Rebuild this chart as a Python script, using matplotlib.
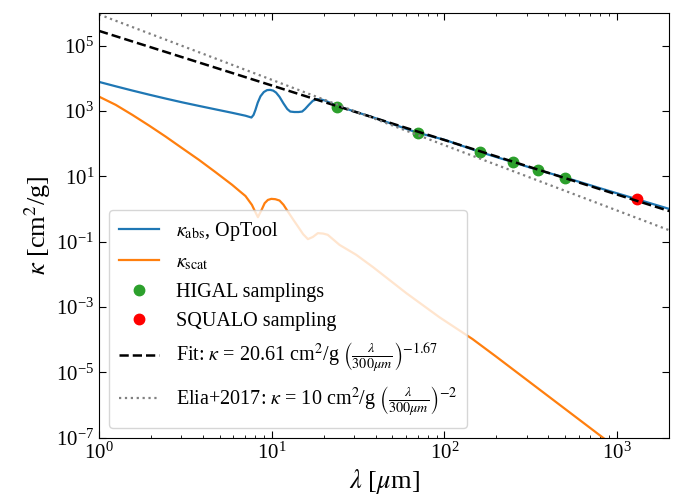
import matplotlib
matplotlib.use("Agg")
import matplotlib.pyplot as plt
from matplotlib.ticker import NullLocator

plt.rcParams['font.family'] = ['Liberation Serif', 'DejaVu Serif']
plt.rcParams['mathtext.fontset'] = 'stix'

# kappa_abs (OpTool)
abs_lam = [1.0, 1.25, 1.56, 1.95, 2.43, 3.03, 3.79, 4.73, 5.9, 7.05, 7.63, 7.85, 8.05, 8.3, 8.61, 9.0, 9.4,
           9.8, 10.2, 10.6, 11.1, 11.7, 12.3, 12.8, 13.5, 14.3, 15.0, 15.6, 16.4, 17.3, 18.3, 19.3, 20.4,
           23.9, 40, 70, 100, 160, 250, 350, 500, 800, 1300, 2000]
abs_kap = [7760, 5690, 4220, 3160, 2400, 1840, 1430, 1120, 880, 716, 631, 760, 1080, 1800, 2820, 3800, 4350,
           4420, 4200, 3650, 2700, 1700, 1150, 960, 930, 930, 960, 1150, 1540, 2050, 2300, 2250, 2080,
           1430, 600, 215, 132, 56, 27, 15.5, 9.2, 4.3, 2.0, 1.01]

# kappa_scat
sca_lam = [1.0, 1.25, 1.56, 1.95, 2.43, 3.03, 3.79, 4.73, 5.9, 6.53, 7.05, 7.68, 8.0, 8.32, 8.7, 9.1, 9.5,
           9.95, 10.5, 11.1, 11.7, 12.4, 13.3, 14.2, 15.2, 16.2, 17.3, 18.5, 19.8, 21.1, 24.7, 30.8, 38.6,
           60.0, 93.5, 145.5, 198.5, 830, 2000]
sca_kap = [2750, 1540, 760, 358, 165, 72.8, 32, 13.4, 5.5, 3.5, 2.5, 1.34, 0.85, 0.565, 0.9, 1.51, 1.9,
           2.05, 2.0, 1.82, 1.35, 0.84, 0.48, 0.29, 0.17, 0.12, 0.14, 0.183, 0.178, 0.163, 0.080, 0.040, 0.0167,
           2.7e-3, 4.9e-4, 1.05e-4, 3.1e-5, 1.0e-7, 3.0e-9]

# HIGAL samplings
higal_lam = [24, 70, 160, 250, 350, 500]
higal_kap = [1370, 215, 56, 27, 15.5, 9.2]

# SQUALO sampling
squalo_lam = [1300]
squalo_kap = [2.0]

# Fit and Elia+2017 power laws (straight lines in log-log, end values)
fit_lam = [1.0, 2000.0]
fit_kap = [2.82e5, 0.87]
elia_lam = [1.0, 2000.0]
elia_kap = [9.0e5, 0.225]

fig = plt.figure(figsize=(6.78, 4.97), dpi=100)
ax = fig.add_axes([0.146, 0.119, 0.841, 0.855])

ax.plot(abs_lam, abs_kap, color='tab:blue', lw=1.6, label=r'$\kappa_{\rm abs}$, OpTool')
ax.plot(sca_lam, sca_kap, color='tab:orange', lw=1.6, label=r'$\kappa_{\rm scat}$')
ax.plot(higal_lam, higal_kap, 'o', color='tab:green', ms=7.5, ls='none', label='HIGAL samplings')
ax.plot(squalo_lam, squalo_kap, 'o', color='red', ms=7.5, ls='none', label='SQUALO sampling')
ax.plot(fit_lam, fit_kap, '--', color='black', lw=1.8,
        label=r'Fit: $\kappa$ = 20.61 cm$^2$/g $\left(\frac{\lambda}{300\mu m}\right)^{-1.67}$')
ax.plot(elia_lam, elia_kap, ':', color='gray', lw=1.6,
        label=r'Elia+2017: $\kappa$ = 10 cm$^2$/g $\left(\frac{\lambda}{300\mu m}\right)^{-2}$')

ax.set_xscale('log')
ax.set_yscale('log')
ax.set_xlim(1, 2000)
ax.set_ylim(1e-7, 1e6)
ax.set_yticks([1e-7, 1e-5, 1e-3, 1e-1, 1e1, 1e3, 1e5])
ax.yaxis.set_minor_locator(NullLocator())

ax.tick_params(which='both', direction='in', top=True, right=True, labelsize=15)
ax.tick_params(which='major', length=5)
ax.tick_params(which='minor', length=2.5)

ax.set_xlabel(r'$\lambda$ [$\mu$m]', fontsize=19, labelpad=2)
ax.set_ylabel(r'$\kappa$ [cm$^2$/g]', fontsize=19, labelpad=2)

ax.legend(loc='lower left', fontsize=14.5, framealpha=0.8, borderaxespad=0.5,
          labelspacing=0.5, borderpad=0.5)

fig.savefig('out.png', dpi=100)
